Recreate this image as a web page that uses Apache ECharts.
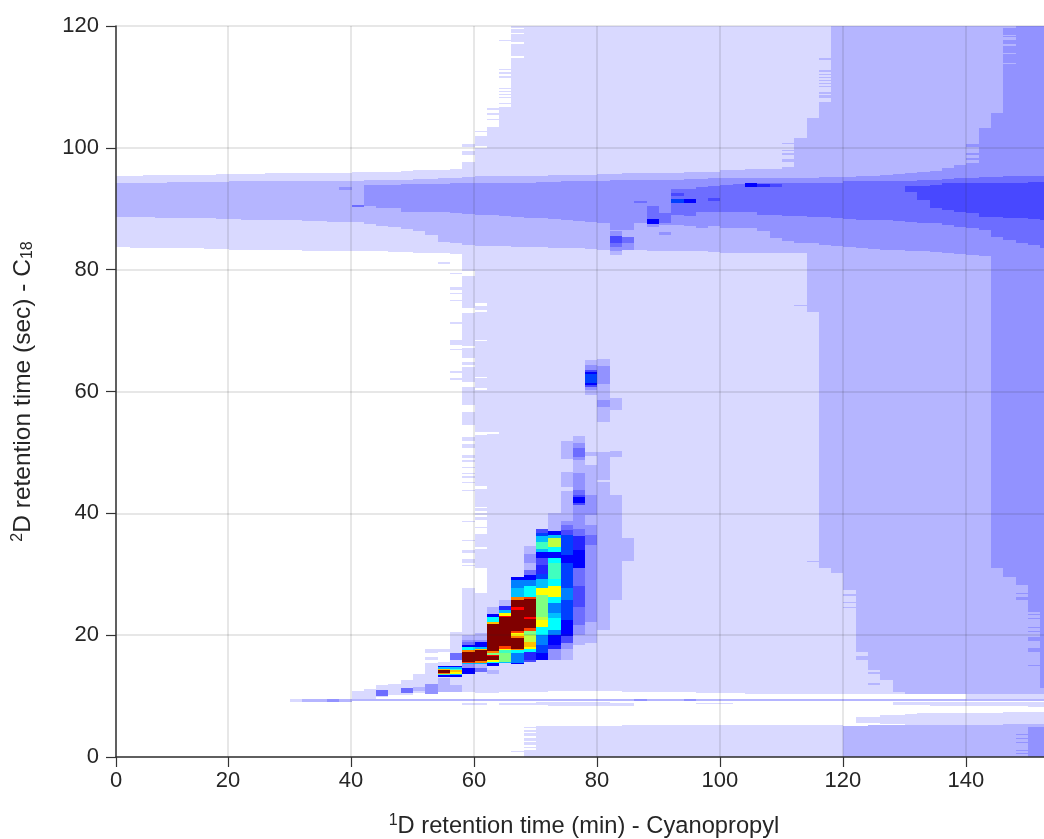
<!DOCTYPE html>
<html>
<head>
<meta charset="utf-8">
<style>html,body{margin:0;padding:0;background:#fff}#c{width:1044px;height:839px}</style>
<script src="https://cdn.jsdelivr.net/npm/echarts@6/dist/echarts.min.js"></script>
</head>
<body>
<div id="c"></div>
<script>
// ---------- tick labels ----------
const xAxisStart = 1.79, xAxisEnd = 152.72;
const xTickValues = [xAxisStart, 20, 40, 60, 80, 100, 120, 140];
const xTickLabels = ['0', '20', '40', '60', '80', '100', '120', '140'];
const yTickValues = [0, 20, 40, 60, 80, 100, 120];

// ---------- first-dimension modulation columns: column k starts at t = 0.1 + 2k min ----------
const columnOffset = 0.1, columnWidth = 2;

// ---------- level 1 (palest): upper and lower edge of each column k = 0..76 ----------
const l1Top = [95.4,95.4,95.4,95.5,95.5,95.5,95.5,95.6,95.6,95.7,95.7,95.7,95.7,95.8,95.8,95.8,95.9,95.9,95.9,95.9,96,96,96.1,96.1,96.2,96.3,96.3,96.4,96.5,97.7,102,103.5,106,120,120,120,120,120,120,120,120,120,120,120,120,120,120,120,120,120,120,120,120,120,120,120,120,120,120,120,120,120,120,120,120,120,120,120,120,120,120,120,120,120,120,120,120];
const l1Bottom = [83.7,83.7,83.6,83.6,83.6,83.5,83.5,83.5,83.4,83.4,83.3,83.3,83.3,83.2,83.2,83.2,83.1,83.1,83.1,83.1,83.1,83,83,82.9,82.9,82.8,82.8,82.7,82.6,79.7,10.5,10.5,10.6,10.6,10.7,10.7,10.8,10.8,10.8,10.8,10.8,10.8,10.7,10.7,10.7,10.6,10.6,10.6,10.5,10.5,10.5,10.5,10.4,10.4,10.4,10.4,10.4,10.4,10.4,10.4,10.4,10.4,10.4,10.4,10.4,10.4,10.4,10.4,10.4,10.4,9.4,9.4,9.4,9.4,9.4,9.4,9.4];
// extra level 1 pieces: [k, low, high]
const l1Patches = [
 [15,9.1,9.5],[20,9.4,10.8],[21,9.5,11.2],[22,9.9,11.8],[23,10.2,12],[24,10.2,12.6],[25,10.5,13.6],[26,10.7,15.4],[26,15.9,16.4],[26,17.1,17.8],
 [27,10.7,15.6],[27,17.3,17.7],[28,10.7,20.5],[28,79.3,79.5],[28,76.7,77.2],[28,76,76.2],[28,74.9,75],[28,71,71.4],[28,67.7,68.5],[28,66.9,67],[28,63.1,63.3],[28,61.9,62.2],[27,81,81.3],
 [29,10.7,27.7],[29,31.4,31.5],[29,31.9,32.5],[29,33.5,34],[29,35.6,35.7],[29,38.6,38.7],[29,43.6,43.8],[29,45.1,45.2],[29,45.8,46.1],[29,46.5,46.6],[29,47.4,47.6],[29,48.5,48.7],[29,49.1,49.6],[29,50.7,51.3],[29,51.8,52.6],[29,54.5,56.7],[29,57.8,60.8],[29,61.6,64],[29,64.4,64.9],[29,65.5,67.1],[29,67.4,72.9],[29,73.7,78.9],
 [29,98.8,99.4],[29,100.2,100.6],[30,102.7,102.8],[31,104.5,104.7],[31,105.4,105.7],[31,106.2,106.5],
 [32,106.1,106.7],[32,107.2,107.4],[32,108.1,108.3],[32,108.6,108.9],[32,109.2,109.4],[32,109.6,109.8],[32,111.4,111.8],[32,112.1,112.4],[32,112.7,112.9],[32,117.6,117.7],
 [29,8.5,8.9],[30,8.5,8.9],[32,8.6,8.9],[33,8.6,8.9],[34,8.5,8.9],[35,8.5,9],[36,8.4,9],[37,8.4,9],[38,8.4,9],[39,8.4,9],[40,8.4,9],[41,8.4,8.9],[42,8.4,8.8],[48,8.7,8.9],[49,8.7,8.9],[50,8.7,8.9],
 [64,8.5,9],[65,8.5,9],[66,8.5,9],[67,8.4,9],[68,8.4,9],[69,8.4,9],[70,8.4,9],[71,8.3,9],[72,8.3,9],[73,8.3,9],[74,8.3,9],[75,8.2,9],[76,8.2,9],
 [61,5.6,6.6],[62,5.6,6.6],[63,5.4,6.9],[64,5.4,6.9],[65,5.3,7.1],[66,5.3,7.3],[67,5.3,7.3],[68,5.3,7.3],[69,5.3,7.3],[70,5.3,7.3],[71,5.3,7.3],[72,5.3,7.3],[73,5.3,7.4],[74,5.3,7.4],[75,5.3,7.4],[76,5.3,7.4],
 [33,0.9,1.05],[34,4.7,5],[34,4.1,4.5],[34,3.4,3.9],[34,2.7,3.1],[34,2,2.4],[34,1.4,1.7],[34,0,1.2],
 [35,0,5.1],[36,0,5.1],[37,0,5.1],[38,0,5.1],[39,0,5.1],[40,0,5.1],[41,0,5.1],[42,0,5.2],[43,0,5.2],[44,0,5.2],[45,0,5.2],[46,0,5.2],[47,0,5.2],[48,0,5.3],[49,0,5.3],[50,0,5.3],[51,0,5.3],[52,0,5.3],[53,0,5.3],[54,0,5.3],[55,0,5.3],[56,0,5.3],[57,0,5.3],[58,0,5.3],[59,0,5.3]
];
// white notches inside level 1: [k, low, high]
const emptyNotches = [
 [30,74.1,74.5],[30,73.1,73.4],[30,68.3,68.5],[30,62.2,62.3],[30,60.3,60.5],[30,52.9,53.4],[30,44,44.5],[30,40.9,41],[30,40,40.4],[30,39.4,39.7],[30,37.8,38.9],[30,36.6,37.6],[30,34.2,34.4],[30,26.9,31],[30,100,100.3],[31,53,53.3],
 [33,119.5,119.6],[33,118.7,118.9],[33,117.1,117.3],[33,114.8,115]
];

// ---------- level 2 ----------
const l2Top = [94.3,94.3,94.3,94.3,94.3,94.4,94.4,94.4,94.4,94.4,94.5,94.5,94.5,94.5,94.5,94.6,94.6,94.6,94.6,94.6,94.6,94.7,94.7,94.8,94.8,94.9,94.9,95,95,95.2,95.3,95.3,95.3,95.4,95.4,95.4,95.5,95.5,95.6,95.6,95.7,95.7,95.8,95.8,95.8,95.9,95.9,96,96,96.1,96.4,96.4,96.5,96.5,96.5,96.9,101.6,104.9,107.6,120,120,120,120,120,120,120,120,120,120,120,120,120,120,120,120,120,120];
const l2Bottom = [88.7,88.7,88.6,88.6,88.5,88.5,88.5,88.4,88.4,88.3,88.3,88.2,88.2,88.2,88.1,88.1,88,88,87.9,87.9,87.9,87.5,87.1,87,86.7,86.3,85.7,84.6,84.4,84,83.9,83.9,83.9,83.8,83.8,83.7,83.6,83.5,83.5,83.4,83.2,83.2,83.2,83.2,83.1,83.1,83,83,83,82.9,82.8,82.8,82.8,82.8,82.7,82.7,82.7,73,31,30.2,27.4,17.2,14.3,12.6,10.7,10.4,10.4,10.4,10.4,10.4,10.4,10.4,10.4,10.4,10.4,10.4,10.4];
const l2Patches = [
 [60,0,5.1],[61,0,5.1],[62,0,5.2],[63,0,5.2],[64,0,5.3],[65,0,5.3],[66,0,5.3],[67,0,5.3],[68,0,5.3],[69,0,5.3],[70,0,5.3],[71,0,5.3],[72,0,5.3],[73,0,5.4],[74,0,5.4],[75,0,5.4],[76,0,5.4],
 [58,114.4,114.7],[58,112.5,112.8],[58,112.1,112.2],[58,111.5,111.6],[58,111,111.1],[58,110.5,110.6],[58,110.1,110.2],[58,108.9,109.2],[58,108.2,108.7],
 [55,100.6,100.8],[55,99.5,99.6],[55,98.9,99.2],[55,97.7,98.2],
 [56,74,74.2],[57,32,32.2],[60,26.5,26.7],[60,25.3,25.5],[60,24.4,24.6],[61,16.3,16.5],[61,16,16.2],[62,13.7,13.9],[62,11.9,12.1],
 [16,9.1,9.5],[17,9.1,9.5],[19,9.1,9.5],[20,9.2,9.5],[21,9.2,9.5],[22,9.2,9.5],[23,9.2,9.5],[24,9.2,9.5],[25,9.2,9.5],[26,9.2,9.5],[27,9.2,9.5],[28,9.2,9.5],[29,9.2,9.5],[30,9.2,9.5],[31,9.2,9.5],[32,9.2,9.5],[33,9.2,9.5],[34,9.2,9.5],[35,9.2,9.5],[36,9.2,9.5],[37,9.2,9.5],[38,9.2,9.5],[39,9.2,9.5],[40,9.2,9.5],[41,9.2,9.5],[42,9.2,9.5],[44,9.2,9.5],[45,9.2,9.5],[46,9.2,9.5],[48,9.2,9.5],[49,9.2,9.5],[50,9.2,9.5],[51,9.2,9.5],[52,9.2,9.5],[53,9.2,9.5],[54,9.2,9.5],[55,9.2,9.5],[56,9.2,9.5],[57,9.2,9.5],[58,9.2,9.5],[59,9.2,9.5],[60,9.2,9.5],[61,9.2,9.5],[62,9.2,9.5],[63,9.2,9.5],[64,9.2,9.5],[65,9.2,9.5],[66,9.2,9.5],[67,9.2,9.5],[68,9.2,9.5],[69,9.2,9.5],[70,9.2,9.5],[71,9.2,9.5],[72,9.2,9.5],[73,9.2,9.5],[74,9.2,9.5],[75,9.2,9.5],[76,9.2,9.5]
];
// level 2 stripes that cross the level 3 column at the top right: [k, low, high]
const l2OverL3 = [[73,118.4,118.6],[73,117.7,118.2],[73,116.7,117.1],[73,115.4,115.5],[73,113.8,113.9]];

// ---------- level 3: columns k = 21..76 ----------
const l3FirstColumn = 21;
const l3Top = [93.9,93.9,93.9,94,94,94.1,94.1,94.2,94.2,94.2,94.2,94.3,94.3,94.3,94.4,94.4,94.5,94.5,94.6,94.6,94.7,94.7,94.7,94.8,94.8,94.8,94.9,94.9,95,95,95,95,95.1,95.1,95.1,95.1,95.1,95.2,95.2,95.2,95.3,95.4,95.6,95.7,95.9,96,96.2,96.7,97.2,97.5,103.2,105.7,119.6,120,120,120];
const l3Bottom = [90.4,90.1,90.1,89.5,89.5,89.4,89.4,89.3,89.1,89,88.9,88.8,88.7,88.5,88.4,88.3,88.1,88,87.9,87.7,86.5,86.5,87.6,87.3,87.3,87.3,87.2,86.8,87.2,86.8,86.9,86.8,86.4,85.2,84.7,84.3,84.3,84.1,83.9,83.7,83.5,83.4,83.3,83.2,83.1,83,82.9,82.7,82.5,82.4,82.3,31,29.6,28.2,23.8,11.3];
const l3Patches = [
 [19,93,93.6],[18,9.1,9.5],[43,9.2,9.5],[47,9.2,9.5],
 [70,100.2,100.7],[70,98.9,99.2],[70,98,98.4],
 [74,26.7,26.9],[74,25.7,26.3],[75,23.4,23.5],[75,22.7,22.8],[75,21.2,21.3],[75,20.6,20.7],[75,19,19.7],[75,17.2,17.9],[75,15,15.1],
 [75,0,5],[76,0,5],[74,3.6,3.7],[74,3.1,3.2],[74,2.3,2.4],[74,1.1,1.2],[74,0.6,0.7]
];

// ---------- level 4: columns k = 46..76 ----------
const l4FirstColumn = 46;
const l4Top = [93.3,93.3,93.6,93.7,93.9,94.1,94.2,94.2,94.2,94.2,94.2,94.3,94.3,94.3,94.5,94.5,94.5,94.6,94.6,94.6,94.7,94.8,94.9,95,95.1,95.2,95.2,95.3,95.4,95.4,95.4];
const l4Bottom = [89,88.8,89.5,89.5,89.5,89.4,89.4,89,89,88.8,88.8,88.7,88.7,88.4,88.3,88.2,88.2,88.1,88,87.8,87.7,87.6,87.4,87,86.8,86.5,85.4,84.9,84.3,84,83.5];

// ---------- level 5: columns k = 65..76 ----------
const l5FirstColumn = 65;
const l5Top = [93.7,93.8,93.9,94.2,94.2,94.3,94.3,94.3,94.3,94.3,94.4,94.4];
const l5Bottom = [92.8,91.5,90.1,89.8,89.5,89.3,88.7,88.6,88.5,88.4,88.3,88.2];

// ---------- small spots on the broad bands: [k, high, level, low, level, low, ...] ----------
const spotColumns = [
 [41,86.4,3,85.5,5,84.3,4,83.7,3,83.1,2,82.4],
 [42,85.3,4,84.3,3,83.3],
 [43,91.3,4,90.9],
 [44,90.4,4,88.3,7,87.5,3,87],
 [45,89.3,4,87.7],[45,86.2,3,85.7],
 [46,92.6,5,92.1],[46,91.6,8,90.9],
 [47,91.6,7,90.9],
 [49,91.8,5,91.3],
 [52,94.2,7,93.6],[53,94.1,6,93.6],[54,94,5,93.6],
 [20,90.6,4,90.3],
 [22,11,4,10],[24,11.3,4,10.5],[25,11.5,2,10.8],[26,12,3,10.4],[27,12.9,2,10.7],[28,11.8,2,10.7]
];

// ---------- main peak, top to bottom for each column: [k, high, level, low, level, low, ...] ----------
const peakColumns = [
 [27,15,7,14.8,10,14.4,16,14.3,21,13.8,17,13.6,12,13.5,7,13.2],
 [28,17,4,16],
 [28,15,7,14.8,10,14.4,12,14.3,16,14,15,13.7,10,13.5,7,13.2],
 [29,20,2,19.2,3,18.8,4,18.4,7,18,11,17.6,17,17.3,21,15.6,18,15.4,10,15.2,3,14.6,7,13.6],
 [30,20.3,2,19.2,3,18.8,7,18.1,10,17.7,16,17.5,21,15.7,17,15.5,10,15.3,2,14.6,4,13.9],
 [31,24.6,2,23.4,7,23,11,22.2,16,21.8,21,17.4,17,17,13,16.8,19,16.5,21,15.9,15,15.6,11,15.4,7,15],
 [31,14.3,2,13.7],
 [32,25.8,2,24.8,6,24.1,10,23.6,15,23.2,19,23,21,18.2,18,17.8,15,17.5,12,17,13,15.6,10,15.4],
 [33,29.6,7,29.1,9,27.7,10,26.3,17,25.8,21,24.6,19,24.1,21,20.7,18,20.3,15,19.9,17,19.6,21,17.8,17,17.5,11,17,9,15.5,7,15.3],
 [34,34.6,2,33.4,3,31.8,2,30.7,4,29.9,7,29.1,9,28,11,26.3,18,25.9,21,23,19,22.6,21,21.1,18,20.7,13,20,14,18.9,16,18.1,15,17.8,11,17.3,6,15.9,5,15.6],
 [35,37.5,5,36.8,8,36.2,10,35.3,12,34.2,10,33.7,7,32.6,5,31.5,6,30.1,8,29.3,10,27.7,15,26.6,13,23,14,22.5,15,21.4,11,20,9,18.4,8,17,7,15.9],
 [36,40,2,37.9,2,37.1,7,36.4,10,35.9,14,34.5,11,33.7,7,32.6,11,31.8,12,29.3,11,28,15,26.3,11,25.2,9,23.6,10,22.8,11,20.9,9,20,7,18.4,6,17.8,3,16],
 [37,51.8,2,48.9],[37,46.8,2,44.4],[37,43.6,2,38.7,3,38.1,4,37.3,5,36.4,8,33.2,7,31.8,8,27.7,9,25.8,8,22.5,7,19.8,5,18.7,3,17.8,2,15.9],
 [38,52.7,2,51.5,3,50.7,4,49.3,3,48.7,2,46.7,3,43.8,4,43,5,42.7,7,41.7,5,41.4,3,38.9,3,37.5,4,36.2,6,34,7,31,4,28,5,24.7,4,21.7,3,20,2,18.4],
 [39,65.2,2,64.3,3,63.5,5,63.2,7,62.9,8,61.4,7,61,5,60.7,3,60.2,2,59.4],
 [39,50.1,2,49.4],[39,48,2,43,3,39.7,2,38.1,3,36.4,4,34.8,3,22.2,2,18.7],
 [40,65.3,2,64.2,3,61.3,2,58.6,3,57.5,2,55],[40,50.1,2,45.5],[40,45.2,2,20.9],
 [41,58.9,2,57],[41,50.2,2,49.3],[41,43,2,25.8],
 [42,35.9,2,32.1]
];

// ---------- colours for the levels ----------
const levelColors = ['#ffffff','#d9d9ff','#b5b5ff','#9292ff','#6d6dff','#4848ff','#2424ff','#0000ff','#0040ff','#0080ff','#00bfff','#00ffff','#40ffbf','#80ff80','#bfff40','#ffff00','#ffbf00','#ff8000','#ff4000','#ff0000','#bf0000','#800000'];

// ---------- turn the tables above into cells ----------
const cells = [];
const addCell = (k, lo, hi, level) => cells.push([columnOffset + columnWidth * k, columnOffset + columnWidth * (k + 1), lo, hi, level]);
const addEdges = (first, tops, bottoms, level) => tops.forEach((t, i) => addCell(first + i, bottoms[i], t, level));
const addPatches = (list, level) => list.forEach(p => addCell(p[0], p[1], p[2], level));
const addStacks = list => list.forEach(r => { for (let i = 1; i + 2 < r.length; i += 2) addCell(r[0], r[i + 2], r[i], r[i + 1]); });

addEdges(0, l1Top, l1Bottom, 1);
addPatches(l1Patches, 1);
addPatches(emptyNotches, 0);
addEdges(0, l2Top, l2Bottom, 2);
addPatches(l2Patches, 2);
addEdges(l3FirstColumn, l3Top, l3Bottom, 3);
addPatches(l3Patches, 3);
addPatches(l2OverL3, 2);
addEdges(l4FirstColumn, l4Top, l4Bottom, 4);
addEdges(l5FirstColumn, l5Top, l5Bottom, 5);
addStacks(spotColumns);
addStacks(peakColumns);

const chart = echarts.init(document.getElementById('c'), null, { renderer: 'canvas' });
const inkColor = '#262626';
const fontFamily = '"Liberation Sans", Arial, sans-serif';
chart.setOption({
  animation: false,
  backgroundColor: '#ffffff',
  grid: { left: 116, top: 26, right: 0, bottom: 82, outerBoundsMode: 'none' },
  xAxis: {
    type: 'value', min: xAxisStart, max: xAxisEnd, interval: 20, z: 6,
    name: '{sup|1}{main|D retention time (min) - Cyanopropyl}',
    nameLocation: 'middle', nameGap: 56,
    nameTextStyle: { padding: [0, 0, 0, 8], rich: {
      main: { fontSize: 23.7, fontFamily, color: inkColor, lineHeight: 26, verticalAlign: 'middle' },
      sup: { fontSize: 16, fontFamily, color: inkColor, lineHeight: 26, verticalAlign: 'top' } } },
    axisLine: { show: true, onZero: false, lineStyle: { color: '#333333', width: 1.5 } },
    axisTick: { show: true, length: 10, customValues: xTickValues, lineStyle: { color: '#333333', width: 1.2 } },
    axisLabel: { customValues: xTickValues, margin: 13, fontSize: 22, fontFamily, color: inkColor,
      formatter: v => xTickLabels[xTickValues.indexOf(v)] },
    splitLine: { show: true, lineStyle: { color: 'rgba(38,38,38,0.15)', width: 1.5 } }
  },
  yAxis: {
    type: 'value', min: 0, max: 120, interval: 20, z: 6,
    name: '{sup|2}{main|D retention time (sec) - C}{sub|18}',
    nameLocation: 'middle', nameGap: 80,
    nameTextStyle: { rich: {
      main: { fontSize: 24.5, fontFamily, color: inkColor, lineHeight: 26, verticalAlign: 'middle' },
      sup: { fontSize: 16, fontFamily, color: inkColor, lineHeight: 26, verticalAlign: 'top' },
      sub: { fontSize: 16, fontFamily, color: inkColor, lineHeight: 26, verticalAlign: 'bottom' } } },
    axisLine: { show: true, lineStyle: { color: '#333333', width: 1.5 } },
    axisTick: { show: true, length: 10, lineStyle: { color: '#333333', width: 1.2 } },
    axisLabel: { margin: 17, fontSize: 22, fontFamily, color: inkColor },
    splitLine: { show: true, lineStyle: { color: 'rgba(38,38,38,0.15)', width: 1.5 } }
  },
  series: [{
    type: 'custom', z: 2, silent: true, clip: true,
    data: cells,
    encode: { x: [0, 1], y: [2, 3] },
    renderItem: (params, api) => {
      const a = api.coord([api.value(0), api.value(3)]);
      const b = api.coord([api.value(1), api.value(2)]);
      const x0 = Math.round(a[0]), x1 = Math.round(b[0]), y0 = Math.round(a[1]);
      const y1 = Math.max(y0 + 1, Math.round(b[1]));
      return { type: 'rect', shape: { x: x0, y: y0, width: x1 - x0, height: y1 - y0 },
        style: { fill: levelColors[api.value(4)] } };
    }
  }]
});
</script>
</body>
</html>
